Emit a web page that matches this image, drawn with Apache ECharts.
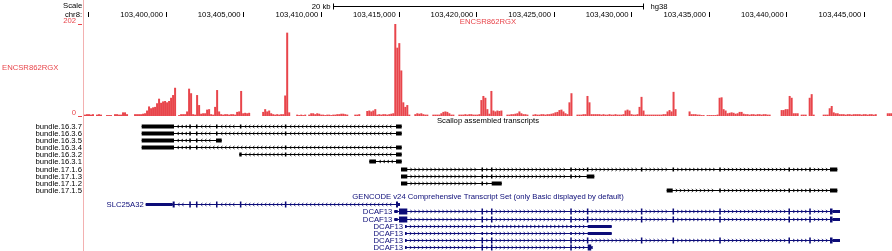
<!DOCTYPE html>
<html>
<head>
<meta charset="utf-8" />
<title>ECharts</title>
<script src="https://cdn.jsdelivr.net/npm/echarts@6.0.0/dist/echarts.min.js"></script>
<style>html,body{margin:0;padding:0;background:#fff;}</style>
</head>
<body>
<div id="main" style="width: 892px;height: 251px;"></div>
<script type="text/javascript">
const VIEW_START = 103394716;
const VIEW_END = 103446783;
const AXIS_TICKS = [103395000, 103400000, 103405000, 103410000, 103415000, 103420000,
    103425000, 103430000, 103435000, 103440000, 103445000];
const SCALE_BAR = [103410750, 103430750];

// ENCSR862RGX signal, one value per ~129 bp bin from VIEW_START
const SIGNAL_MAX = 202;
const SIGNAL_BIN = 129;
const signal = [
    3, 4, 4, 3, 4, 0, 3, 4, 3, 0,
    0, 2, 2, 2, 0, 4, 4, 3, 3, 8,
    8, 4, 0, 0, 0, 4, 4, 4, 4, 5,
    6, 12, 21, 17, 19, 20, 28, 38, 29, 32,
    33, 30, 33, 40, 46, 62, 0, 2, 4, 4,
    4, 10, 60, 50, 4, 3, 46, 24, 5, 6,
    6, 14, 15, 4, 3, 20, 57, 10, 4, 3,
    4, 4, 3, 4, 4, 3, 9, 10, 55, 6,
    7, 6, 7, 0, 0, 0, 0, 0, 0, 9,
    15, 10, 12, 6, 4, 3, 4, 3, 4, 4,
    45, 183, 8, 0, 0, 0, 3, 2, 3, 2,
    3, 0, 3, 6, 6, 4, 6, 5, 3, 3,
    2, 3, 3, 2, 3, 3, 4, 4, 5, 5,
    4, 3, 0, 0, 0, 3, 3, 4, 0, 0,
    0, 11, 12, 10, 12, 15, 3, 4, 3, 4,
    4, 3, 4, 5, 6, 202, 150, 160, 100, 30,
    20, 24, 3, 0, 0, 4, 6, 5, 6, 4,
    3, 3, 0, 0, 3, 3, 3, 3, 6, 9,
    10, 9, 6, 3, 3, 0, 0, 3, 3, 3,
    4, 3, 4, 4, 3, 3, 3, 4, 35, 44,
    40, 15, 5, 55, 12, 10, 12, 11, 12, 0,
    0, 3, 3, 4, 4, 5, 6, 10, 6, 4,
    4, 3, 0, 0, 3, 4, 3, 3, 4, 4,
    3, 4, 4, 5, 6, 8, 9, 13, 14, 10,
    6, 4, 30, 50, 0, 0, 3, 3, 3, 4,
    4, 44, 30, 4, 4, 4, 4, 4, 3, 4,
    3, 3, 4, 3, 3, 4, 3, 3, 3, 4,
    12, 14, 12, 4, 3, 3, 4, 20, 42, 12,
    3, 3, 3, 3, 3, 3, 3, 3, 3, 4,
    4, 10, 13, 10, 53, 15, 0, 0, 0, 0,
    0, 0, 10, 4, 4, 4, 3, 3, 2, 2,
    0, 2, 2, 2, 2, 2, 3, 40, 41, 15,
    12, 6, 7, 8, 7, 5, 6, 9, 9, 5,
    4, 4, 3, 4, 4, 3, 4, 4, 3, 4,
    4, 3, 3, 0, 0, 0, 0, 0, 13, 13,
    15, 15, 44, 40, 6, 6, 6, 0, 3, 3,
    3, 0, 40, 48, 3, 0, 0, 0, 0, 3,
    3, 3, 17, 22, 8, 6, 6, 4, 4, 4,
    3, 4, 4, 3, 4, 4, 4, 4, 3, 4,
    4, 3, 4, 4, 3, 4, 0, 0, 0, 0,
    0, 6, 6, 6
];

// Scallop assembled transcripts
const bundleNames = ['bundle.16.3.7', 'bundle.16.3.6', 'bundle.16.3.5', 'bundle.16.3.4', 'bundle.16.3.2',
    'bundle.16.3.1', 'bundle.17.1.6', 'bundle.17.1.3', 'bundle.17.1.2', 'bundle.17.1.5'];
const bundleStrand = ['-', '-', '-', '-', '-', '-', '+', '+', '+', '+'];
const bundleExons = [
    [[103398434, 103400516], [103401500, 103401600], [103401930, 103402030], [103403220, 103403320], [103404760, 103404860], [103407660, 103407760], [103414821, 103415188]],
    [[103398434, 103400516], [103401500, 103401600], [103401930, 103402030], [103403220, 103403320], [103407660, 103407760], [103414821, 103415188]],
    [[103398434, 103400516], [103401500, 103401600], [103401930, 103402030], [103403220, 103403589]],
    [[103398434, 103400516], [103401500, 103401600], [103401930, 103402030], [103407660, 103407760], [103414821, 103415188]],
    [[103404723, 103404878], [103407660, 103407760], [103414821, 103415188]],
    [[103413101, 103413532], [103414821, 103415188]],
    [[103415143, 103415549], [103420330, 103420430], [103420940, 103421040], [103426050, 103426150], [103427120, 103427220], [103430600, 103430700], [103432640, 103432740], [103435650, 103435750], [103440110, 103440210], [103441450, 103441550], [103442788, 103443259]],
    [[103415143, 103415549], [103420330, 103420430], [103420940, 103421040], [103426050, 103426150], [103427110, 103427600]],
    [[103415143, 103415549], [103420330, 103420430], [103420988, 103421633]],
    [[103432265, 103432652], [103435650, 103435750], [103440110, 103440210], [103441450, 103441550], [103442788, 103443259]]
];

// GENCODE v24 transcripts
const geneNames = ['SLC25A32', 'DCAF13', 'DCAF13', 'DCAF13', 'DCAF13', 'DCAF13', 'DCAF13'];
const geneStrand = ['-', '+', '+', '+', '+', '+', '+'];
const geneExons = [
    [[103398692, 103400560], [103401500, 103401600], [103401930, 103402030], [103403220, 103403320], [103404760, 103404860], [103407660, 103407760], [103414821, 103415080]],
    [[103414712, 103414931], [103415015, 103415549], [103420330, 103420430], [103420940, 103421040], [103426050, 103426150], [103427120, 103427220], [103430600, 103430700], [103432640, 103432740], [103435650, 103435750], [103440110, 103440210], [103441450, 103441550], [103442788, 103443433]],
    [[103414712, 103414931], [103415015, 103415549], [103420330, 103420430], [103420940, 103421040], [103426050, 103426150], [103427120, 103427220], [103430600, 103430700], [103432640, 103432740], [103435650, 103435750], [103440110, 103440210], [103441450, 103441550], [103442788, 103443433]],
    [[103415401, 103415511], [103420330, 103420430], [103426050, 103426150], [103427174, 103428721]],
    [[103415401, 103415511], [103420330, 103420430], [103420940, 103421040], [103426050, 103426150], [103427174, 103428721]],
    [[103415401, 103415511], [103420330, 103420430], [103420940, 103421040], [103426050, 103426150], [103427120, 103427220], [103430600, 103430700], [103432640, 103432740], [103435650, 103435750], [103440110, 103440210], [103441450, 103441550], [103442788, 103443433]],
    [[103415401, 103415511], [103420330, 103420430], [103420940, 103421040], [103426050, 103426150], [103427174, 103427450]]
];
const geneCds = [
    [103400430, 103414950],
    [103415015, 103442950],
    [103415015, 103442950],
    null,
    null,
    [103420330, 103442950],
    [103420330, 103427400]
];

const FONT = '"Liberation Sans", Arial, Helvetica, sans-serif';
const FS = 7.7;
const RED = '#e8454b';
const NAVY = '#0c0c78';
const GENE_ROW0 = 11;

const myChart = echarts.init(document.getElementById('main'));

const drawTranscript = (api, row, exons, cds, strand, color, thickH, thinH, label, sideLabel) => {
    const y = Math.round(api.coord([VIEW_START, row])[1]) + 0.5;
    const px = (bp) => api.coord([bp, row])[0];
    const children = [];
    const x0 = px(exons[0][0]);
    const x1 = px(exons[exons.length - 1][1]);
    children.push({ type: 'line', shape: { x1: x0, y1: y, x2: x1, y2: y }, style: { stroke: color, lineWidth: 1 } });
    for (let k = 0; k < exons.length - 1; k++) {
        const a = px(exons[k][1]) + 2;
        const b = px(exons[k + 1][0]) - 2;
        for (let cx = a + 2; cx < b - 1; cx += 4) {
            const d = strand === '+' ? 1 : -1;
            children.push({
                type: 'polyline',
                shape: { points: [[cx - d, y - 1.5], [cx + d, y], [cx - d, y + 1.5]] },
                style: { stroke: color, lineWidth: 0.8, fill: null }
            });
        }
    }
    exons.forEach(([s, e]) => {
        const parts = [];
        if (!cds) {
            parts.push([s, e, thinH]);
        } else {
            if (s < cds[0]) parts.push([s, Math.min(e, cds[0]), thinH]);
            const cs = Math.max(s, cds[0]);
            const ce = Math.min(e, cds[1]);
            if (ce > cs) parts.push([cs, ce, thickH]);
            if (e > cds[1]) parts.push([Math.max(s, cds[1]), e, thinH]);
        }
        parts.forEach(([ps, pe, h]) => {
            const xa = px(ps);
            const w = Math.max(px(pe) - xa, 1.5);
            children.push({ type: 'rect', shape: { x: xa, y: y - h / 2, width: w, height: h }, style: { fill: color } });
        });
    });
    if (label) {
        children.push({
            type: 'text',
            style: { text: label, x: x0 - 2, y: y, fill: color, font: FS + 'px ' + FONT, align: 'right', verticalAlign: 'middle' }
        });
    }
    if (sideLabel) {
        children.push({
            type: 'text',
            style: { text: sideLabel, x: px(VIEW_START) - 2, y: y, fill: '#000', font: FS + 'px ' + FONT, align: 'right', verticalAlign: 'middle' }
        });
    }
    return { type: 'group', children };
};

const option = {
    animation: false,
    backgroundColor: '#fff',
    textStyle: { fontFamily: FONT },
    grid: [
        { left: 84, right: 0, top: 24, height: 92 },
        { left: 84, right: 0, top: 118.55, height: 132.275 },
        { left: 83, right: 0, top: 0, bottom: 0 }
    ],
    xAxis: [
        {
            gridIndex: 0, type: 'value', min: VIEW_START, max: VIEW_END,
            position: 'top', offset: 7,
            axisLine: { show: false, onZero: false },
            splitLine: { show: false },
            axisTick: { show: true, customValues: AXIS_TICKS, length: 5, lineStyle: { color: '#000' } },
            axisLabel: {
                customValues: AXIS_TICKS, fontSize: FS, color: '#000', align: 'right', verticalAlign: 'middle',
                margin: 2.5, padding: [0, 3, 0, 0],
                formatter: (v) => v < 103400000 ? '' : v.toLocaleString('en-US')
            }
        },
        { gridIndex: 1, type: 'value', min: VIEW_START, max: VIEW_END, show: false },
        { gridIndex: 2, type: 'value', min: 0, max: 1, show: false }
    ],
    yAxis: [
        {
            gridIndex: 0, type: 'value', min: 0, max: SIGNAL_MAX, interval: SIGNAL_MAX, offset: 2,
            axisLine: { show: false },
            splitLine: { show: false },
            axisTick: { show: true, length: 4, lineStyle: { color: RED } },
            axisLabel: { color: RED, fontSize: FS, margin: 6, verticalAlign: 'bottom', lineHeight: 7 }
        },
        {
            gridIndex: 1, type: 'value', min: -1, max: 17.5, inverse: true, show: false
        },
        {
            gridIndex: 2, type: 'value', min: 0, max: 1,
            axisLine: { show: true, lineStyle: { color: '#f3b1b1' } },
            axisTick: { show: false }, axisLabel: { show: false }, splitLine: { show: false }
        }
    ],
    graphic: [
        { type: 'text', left: 63, top: 2, style: { text: 'Scale', fill: '#000', font: FS + 'px ' + FONT } },
        { type: 'text', left: 65, top: 11, style: { text: 'chr8:', fill: '#000', font: FS + 'px ' + FONT } },
        { type: 'text', left: 2, top: 64, style: { text: 'ENCSR862RGX', fill: RED, font: FS + 'px ' + FONT } },
        { type: 'text', x: 488, y: 21.5, style: { text: 'ENCSR862RGX', fill: RED, font: FS + 'px ' + FONT, align: 'center', verticalAlign: 'middle' } },
        { type: 'text', x: 488, y: 121, style: { text: 'Scallop assembled transcripts', fill: '#000', font: FS + 'px ' + FONT, align: 'center', verticalAlign: 'middle' } },
        { type: 'text', x: 488, y: 197.3, style: { text: 'GENCODE v24 Comprehensive Transcript Set (only Basic displayed by default)', fill: NAVY, font: FS + 'px ' + FONT, align: 'center', verticalAlign: 'middle' } }
    ],
    series: [
        {
            type: 'bar', xAxisIndex: 0, yAxisIndex: 0,
            barWidth: 2,
            itemStyle: { color: RED },
            data: signal.map((v, i) => [VIEW_START + (i + 0.5) * SIGNAL_BIN, v])
        },
        {
            type: 'custom', xAxisIndex: 0, yAxisIndex: 0, clip: false,
            data: [SCALE_BAR],
            renderItem: (params, api) => {
                const a = Math.round(api.coord([api.value(0), 0])[0]) + 0.5;
                const b = Math.round(api.coord([api.value(1), 0])[0]) + 0.5;
                const y = 6.5;
                return {
                    type: 'group', children: [
                        { type: 'line', shape: { x1: a, y1: y, x2: b, y2: y }, style: { stroke: '#000', lineWidth: 1 } },
                        { type: 'line', shape: { x1: a, y1: y - 3, x2: a, y2: y + 3 }, style: { stroke: '#000', lineWidth: 1 } },
                        { type: 'line', shape: { x1: b, y1: y - 3, x2: b, y2: y + 3 }, style: { stroke: '#000', lineWidth: 1 } },
                        { type: 'text', style: { text: '20 kb', x: a - 3, y: y, fill: '#000', font: FS + 'px ' + FONT, align: 'right', verticalAlign: 'middle' } },
                        { type: 'text', style: { text: 'hg38', x: b + 7, y: y + 0.5, fill: '#000', font: FS + 'px ' + FONT, align: 'left', verticalAlign: 'middle' } }
                    ]
                };
            }
        },
        {
            type: 'custom', xAxisIndex: 1, yAxisIndex: 1, clip: false,
            data: bundleExons.map((ex, i) => [i, ex[0][0], ex[ex.length - 1][1]]),
            renderItem: (params, api) => {
                const i = params.dataIndex;
                return drawTranscript(api, api.value(0), bundleExons[i], null, bundleStrand[i], '#000', 4, 4, null, bundleNames[i]);
            }
        },
        {
            type: 'custom', xAxisIndex: 1, yAxisIndex: 1, clip: false,
            data: geneExons.map((ex, i) => [GENE_ROW0 + i, ex[0][0], ex[ex.length - 1][1]]),
            renderItem: (params, api) => {
                const i = params.dataIndex;
                return drawTranscript(api, api.value(0), geneExons[i], geneCds[i], geneStrand[i], NAVY, 6, 3, geneNames[i], null);
            }
        }
    ]
};
myChart.setOption(option);
</script>
</body>
</html>
